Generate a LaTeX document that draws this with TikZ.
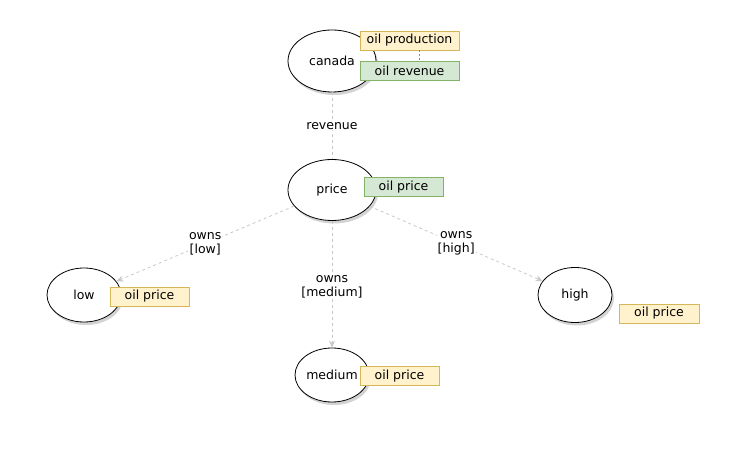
\documentclass[tikz,border=0pt]{standalone}
\usepackage{fontspec}
\setmainfont{DejaVu Sans}
\usetikzlibrary{shapes.geometric,shadows,arrows.meta}
\definecolor{yfill}{HTML}{FFF2CC}
\definecolor{ydraw}{HTML}{D6B656}
\definecolor{gfill}{HTML}{D5E8D4}
\definecolor{gdraw}{HTML}{82B366}
\definecolor{edgec}{HTML}{C8C8C8}
\begin{document}
\begin{tikzpicture}[x=1pt,y=-1pt,
  every node/.style={font=\fontsize{12.5}{14}\selectfont},
  ent/.style={ellipse,draw=black,fill=white,line width=0.8pt,inner sep=0pt,
    drop shadow={opacity=0.35,shadow xshift=2pt,shadow yshift=-3pt}},
  ybox/.style={rectangle,draw=ydraw,fill=yfill,line width=0.7pt,inner sep=0pt,minimum height=19pt},
  gbox/.style={rectangle,draw=gdraw,fill=gfill,line width=0.7pt,inner sep=0pt,minimum height=19pt},
  rel/.style={draw=edgec,dashed,line width=0.8pt,dash pattern=on 3pt off 3pt},
  relarr/.style={rel,-{Stealth[length=7pt,width=6pt,fill=edgec]}},
  lbl/.style={fill=white,inner sep=1pt,align=center,font=\fontsize{12.5}{15}\selectfont}]
\useasboundingbox (0,0) rectangle (742,470);
% entities
\node[ent,minimum width=88pt,minimum height=62pt] (canada) at (332,61) {canada};
\node[ent,minimum width=88pt,minimum height=61pt] (price) at (332,190) {price};
\node[ent,minimum width=74pt,minimum height=54pt] (low) at (84,295) {low};
\node[ent,minimum width=74pt,minimum height=55pt] (high) at (575,295) {high};
\node[ent,minimum width=74pt,minimum height=54pt] (medium) at (332,375) {medium};
% edges
\draw[rel] (canada) -- node[lbl] {revenue} (price);
\draw[relarr] (price) -- node[lbl,pos=0.5] {owns\\[-1pt][low]} (low);
\draw[relarr] (price) -- node[lbl,pos=0.52] {owns\\[-1pt][medium]} (medium);
\draw[relarr] (price) -- node[lbl,pos=0.5] {owns\\[-1pt][high]} (high);
% attribute boxes
\node[ybox,minimum width=99pt] (prod) at (409.5,40.5) {oil production};
\node[gbox,minimum width=99pt] (rev) at (409.5,71) {oil revenue};
\draw[dashed,dash pattern=on 2pt off 2pt,black!45] ([xshift=10pt]prod.south) -- ([xshift=10pt]rev.north);
\node[gbox,minimum width=79pt] (pp) at (403.5,187) {oil price};
\node[ybox,minimum width=79pt] (lp) at (149.5,296.5) {oil price};
\node[ybox,minimum width=80pt] (hp) at (659,313.5) {oil price};
\node[ybox,minimum width=79pt] (mp) at (399.5,376) {oil price};
\end{tikzpicture}
\end{document}
